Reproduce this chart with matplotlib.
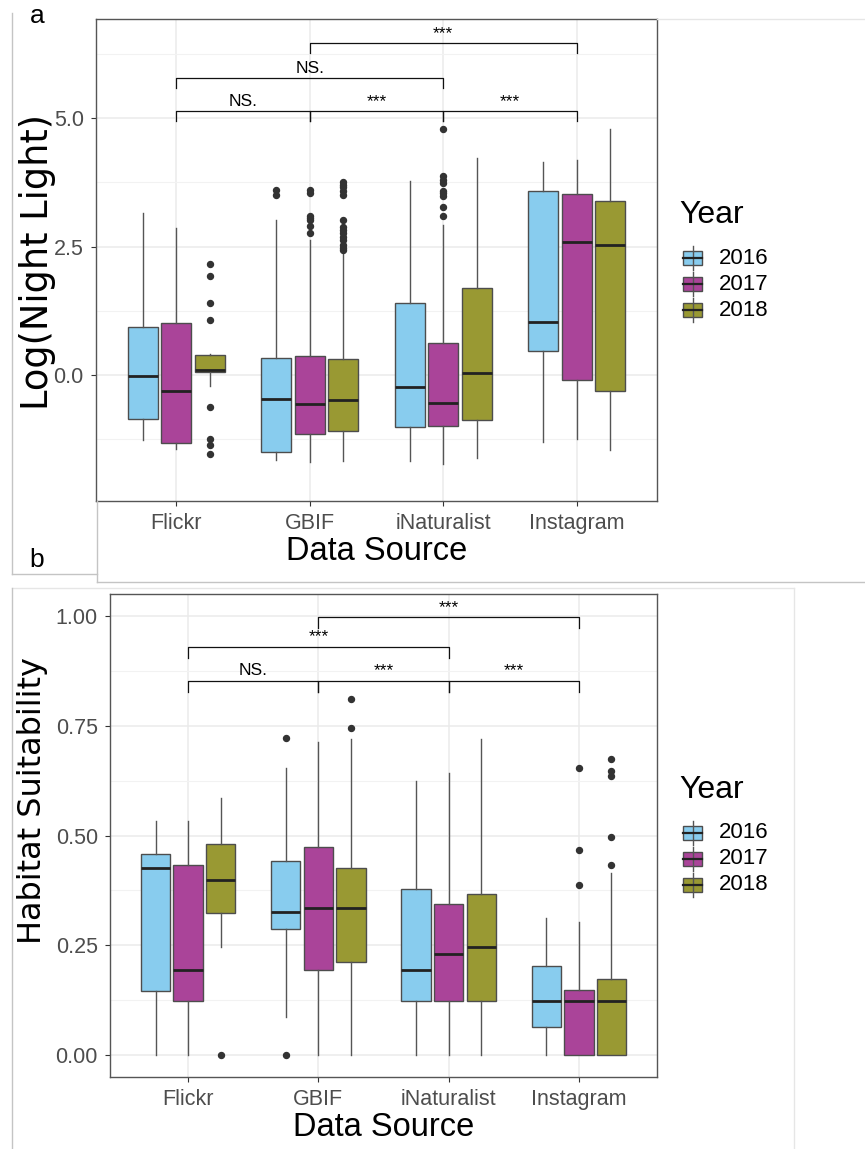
import matplotlib
matplotlib.use("Agg")
import matplotlib.pyplot as plt
from matplotlib.transforms import Affine2D
from matplotlib.lines import Line2D
from matplotlib.patches import Rectangle
import numpy as np

# ---------------- data ----------------
sources = ["Flickr", "GBIF", "iNaturalist", "Instagram"]
years = ["2016", "2017", "2018"]
year_colors = ["#88CCEE", "#AA4499", "#999933"]

# Panel a: Log(Night Light); rows = sources, cols = years
night_whislo = [[-1.26, -1.44, -0.22], [-1.65, -1.70, -1.67], [-1.67, -1.73, -1.62], [-1.31, -1.24, -1.46]]
night_q1     = [[-0.85, -1.32, 0.06], [-1.49, -1.14, -1.08], [-1.01, -0.99, -0.88], [0.47, -0.10, -0.31]]
night_med    = [[-0.01, -0.31, 0.10], [-0.46, -0.56, -0.49], [-0.23, -0.54, 0.04], [1.04, 2.60, 2.54]]
night_q3     = [[0.93, 1.01, 0.40], [0.34, 0.38, 0.32], [1.41, 0.62, 1.70], [3.58, 3.52, 3.39]]
night_whishi = [[3.15, 2.86, 0.42], [3.02, 2.62, 2.40], [3.78, 2.93, 4.23], [4.15, 4.19, 4.79]]
night_fliers = [
    [[], [], [2.17, 1.93, 1.40, 1.08, -0.62, -1.24, -1.36, -1.54]],
    [[3.61, 3.51], [3.61, 3.54, 3.10, 3.06, 3.01, 2.90, 2.77],
     [3.75, 3.70, 3.66, 3.58, 3.51, 3.02, 2.88, 2.83, 2.77, 2.69, 2.62, 2.54, 2.47, 2.44]],
    [[], [4.79, 3.87, 3.80, 3.74, 3.59, 3.54, 3.48, 3.28, 3.09], []],
    [[], [], []],
]
night_yticks = [0.0, 2.5, 5.0]
night_ticklabels = ["0.0", "2.5", "5.0"]
night_minor = [-1.25, 1.25, 3.75, 6.25]
night_ylim = (-2.45, 6.93)
# significance brackets: (source i, source j, label, bracket y, tip y)
night_sig = [(1, 2, "NS.", 5.13, 4.94), (2, 3, "***", 5.13, 4.94), (3, 4, "***", 5.13, 4.94),
             (1, 3, "NS.", 5.78, 5.58), (2, 4, "***", 6.46, 6.26)]

# Panel b: Habitat Suitability
hab_whislo = [[0.0, 0.0, 0.246], [0.087, 0.0, 0.0], [0.0, 0.0, 0.0], [0.0, 0.0, 0.0]]
hab_q1     = [[0.145, 0.123, 0.324], [0.288, 0.194, 0.212], [0.123, 0.123, 0.123], [0.063, 0.0, 0.0]]
hab_med    = [[0.425, 0.194, 0.398], [0.325, 0.336, 0.336], [0.194, 0.229, 0.246], [0.123, 0.123, 0.123]]
hab_q3     = [[0.458, 0.433, 0.481], [0.442, 0.474, 0.425], [0.379, 0.345, 0.366], [0.203, 0.149, 0.173]]
hab_whishi = [[0.533, 0.533, 0.586], [0.654, 0.713, 0.720], [0.625, 0.642, 0.720], [0.313, 0.302, 0.415]]
hab_fliers = [
    [[], [], [0.0]],
    [[0.0, 0.723], [], [0.811, 0.745]],
    [[], [], []],
    [[], [0.387, 0.466, 0.654], [0.432, 0.497, 0.635, 0.648, 0.674]],
]
hab_yticks = [0.0, 0.25, 0.5, 0.75, 1.0]
hab_ticklabels = ["0.00", "0.25", "0.50", "0.75", "1.00"]
hab_minor = [0.125, 0.375, 0.625, 0.875]
hab_ylim = (-0.05, 1.05)
hab_sig = [(1, 2, "NS.", 0.853, 0.827), (2, 3, "***", 0.853, 0.827), (3, 4, "***", 0.853, 0.827),
           (1, 3, "***", 0.930, 0.904), (2, 4, "***", 0.998, 0.972)]

# ---------------- figure ----------------
W, H = 865, 1149
fig = plt.figure(figsize=(W / 100, H / 100), dpi=100)
fig.patch.set_facecolor("white")
PX = Affine2D().scale(1.0 / W, -1.0 / H).translate(0, 1) + fig.transFigure

FONT = "Liberation Sans"
TICKC = "#4d4d4d"
EDGE = "#4d4d4d"
GRID = "#ebebeb"


def px_axes(l, t, r, b):
    return fig.add_axes([l / W, 1 - b / H, (r - l) / W, (b - t) / H])


def draw_panel(ax, whislo, q1, med, q3, whishi, fliers, yticks, yticklabels, minor,
               ylim, sig, ylabel, ylab_size, ylab_x, ylab_y, xlab_y):
    offsets = [-0.25, 0.0, 0.25]
    for yi, col in enumerate(year_colors):
        stats = []
        pos = []
        for si in range(len(sources)):
            stats.append(dict(med=med[si][yi], q1=q1[si][yi], q3=q3[si][yi],
                              whislo=whislo[si][yi], whishi=whishi[si][yi],
                              fliers=fliers[si][yi]))
            pos.append(si + 1 + offsets[yi])
        ax.bxp(stats, positions=pos, widths=0.225, patch_artist=True, showcaps=False,
               boxprops=dict(facecolor=col, edgecolor=EDGE, linewidth=1.0),
               medianprops=dict(color="#222222", linewidth=2.0),
               whiskerprops=dict(color="#555555", linewidth=1.0),
               flierprops=dict(marker="o", markerfacecolor="#333333",
                               markeredgecolor="#333333", markersize=4.3),
               zorder=3)
    ax.set_xlim(0.4, 4.6)
    ax.set_ylim(*ylim)
    ax.set_xticks(range(1, 5))
    ax.set_xticklabels(sources, fontfamily=FONT, fontsize=15.5, color=TICKC)
    ax.set_yticks(yticks)
    ax.set_yticklabels(yticklabels, fontfamily=FONT, fontsize=15.5, color=TICKC)
    ax.set_yticks(minor, minor=True)
    ax.tick_params(axis="both", which="major", length=3.8, width=0.8, color="#333333")
    ax.tick_params(axis="x", pad=5)
    ax.tick_params(axis="y", pad=5)
    ax.tick_params(axis="y", which="minor", length=0)
    ax.grid(True, which="major", color=GRID, linewidth=1.1, zorder=0)
    ax.grid(True, which="minor", axis="y", color="#f2f2f2", linewidth=0.8, zorder=0)
    ax.set_axisbelow(True)
    for sp in ax.spines.values():
        sp.set_color("#555555")
        sp.set_linewidth(1.0)
    ax.set_xlabel("Data Source", fontfamily=FONT, fontsize=23.5, color="black")
    ax.xaxis.label.set_va("center")
    ax.xaxis.set_label_coords(0.5, xlab_y)
    ax.set_ylabel(ylabel, fontfamily="DejaVu Sans", fontsize=ylab_size, color="black")
    ax.yaxis.label.set_va("center")
    ax.yaxis.set_label_coords(ylab_x, ylab_y)
    for (i, j, lab, yb, yt) in sig:
        ax.plot([i, i, j, j], [yt, yb, yb, yt], color="#111111", linewidth=0.9, zorder=4)
        ax.annotate(lab, xy=((i + j) / 2, yb), xytext=(0, 1.5), textcoords="offset points",
                    ha="center", va="bottom", fontfamily=FONT, fontsize=12.5, color="black",
                    zorder=5)


# Panel a
axa = px_axes(96, 19, 657, 501)
draw_panel(axa, night_whislo, night_q1, night_med, night_q3, night_whishi, night_fliers,
           night_yticks, night_ticklabels, night_minor, night_ylim, night_sig,
           "Log(Night Light)", 26.5, (37 - 96) / 561, (501 - 262) / 482, (501 - 551) / 482)

# Panel b
axb = px_axes(110, 594, 657, 1077)
draw_panel(axb, hab_whislo, hab_q1, hab_med, hab_q3, hab_whishi, hab_fliers,
           hab_yticks, hab_ticklabels, hab_minor, hab_ylim, hab_sig,
           "Habitat Suitability", 23, (32 - 110) / 547, (1077 - 800) / 483,
           (1077 - 1127) / 483)


# ---------------- legends ----------------
def draw_legend(title_y, key_ys):
    fig.text(679, title_y, "Year", transform=PX, fontfamily=FONT, fontsize=23,
             ha="left", va="center", color="black")
    for yv, col, lab in zip(key_ys, year_colors, years):
        fig.add_artist(Line2D([692.5, 692.5], [yv - 12, yv + 12], transform=PX,
                              color="#555555", linewidth=1.0))
        fig.add_artist(Rectangle((683, yv - 7), 19, 14, transform=PX, facecolor=col,
                                 edgecolor=EDGE, linewidth=1.0))
        fig.add_artist(Line2D([683, 702], [yv, yv], transform=PX, color="#222222",
                              linewidth=1.6))
        fig.text(719, yv, lab, transform=PX, fontfamily=FONT, fontsize=16,
                 ha="left", va="center", color="black")


draw_legend(215, [258, 284, 310])
draw_legend(790, [833, 859, 885])

# panel letters
fig.text(37, 16, "a", transform=PX, fontfamily=FONT, fontsize=19, ha="center",
         va="center", color="black")
fig.text(37, 560, "b", transform=PX, fontfamily=FONT, fontsize=19, ha="center",
         va="center", color="black")

# faint frame lines from the original composition
frame_c = "#c4c4c4"
faint_c = "#e6e6e6"
for xs, ys, c in [
    ([12, 12], [13, 574], frame_c),
    ([12, 97], [574, 574], frame_c),
    ([97, 97], [501, 582], frame_c),
    ([97, 865], [582, 582], frame_c),
    ([12, 794], [588, 588], faint_c),
    ([12, 12], [588, 1149], frame_c),
    ([794, 794], [588, 1149], faint_c),
    ([657, 865], [19, 19], faint_c),
]:
    fig.add_artist(Line2D(xs, ys, transform=PX, color=c, linewidth=1.0))

fig.savefig("out.png", dpi=100, facecolor="white")
